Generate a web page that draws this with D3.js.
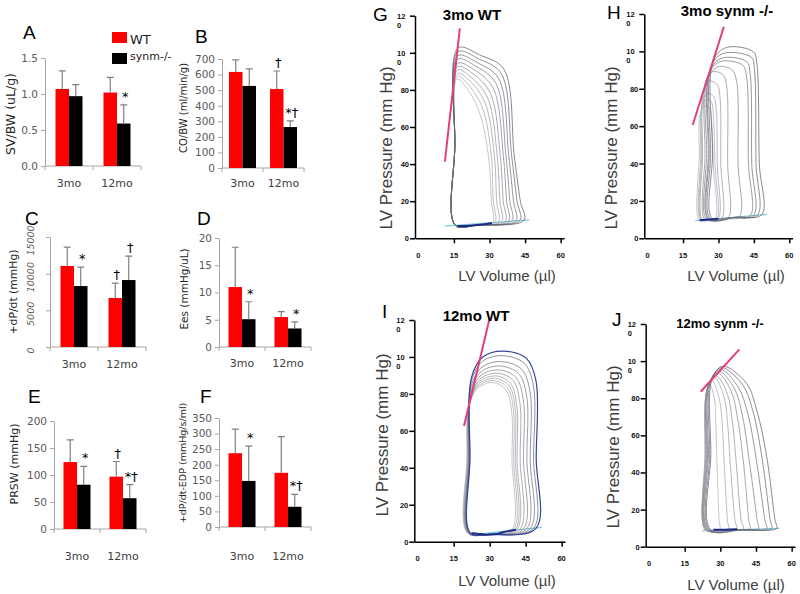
<!DOCTYPE html>
<html>
<head>
<meta charset="utf-8">
<script src="https://cdn.jsdelivr.net/npm/d3@7/dist/d3.min.js"></script>
<style>
  body { margin: 0; background: #fff; }
  svg { display: block; }
</style>
</head>
<body>
<svg id="fig" width="800" height="594"></svg>
<script>
// ---------- bar panels: mean and SD ----------
const groups = ["3mo", "12mo"];
const seriesNames = ["WT", "synm-/-"];
const seriesColors = ["#ff0000", "#000000"];

const svbwWT = [1.07, 1.02], svbwWTsd = [0.25, 0.21];
const svbwKO = [0.97, 0.59], svbwKOsd = [0.16, 0.26];
const svbwTicks = [0, 0.5, 1.0, 1.5];

const cobwWT = [617, 507], cobwWTsd = [77, 116];
const cobwKO = [527, 263], cobwKOsd = [109, 39];
const cobwTicks = [0, 100, 200, 300, 400, 500, 600, 700];

const dpdtWT = [11050, 6680], dpdtWTsd = [2580, 2040];
const dpdtKO = [8310, 9130], dpdtKOsd = [2590, 3270];
const dpdtTicks = [0, 5000, 10000, 15000];

const eesWT = [11.0, 5.5], eesWTsd = [7.3, 1.0];
const eesKO = [5.1, 3.4], eesKOsd = [3.2, 1.2];
const eesTicks = [0, 5, 10, 15, 20];

const prswWT = [124, 97], prswWTsd = [41, 28];
const prswKO = [82, 57], prswKOsd = [34, 25];
const prswTicks = [0, 50, 100, 150, 200];

const edpWT = [237, 174], edpWTsd = [77, 116];
const edpKO = [148, 65], edpKOsd = [112, 40];
const edpTicks = [0, 50, 100, 150, 200, 250, 300, 350];

// significance marks: panel, group index, series index, symbol
const sigMarks = [
  ["A", 1, 1, "*"],
  ["B", 1, 0, "†"], ["B", 1, 1, "*†"],
  ["C", 0, 1, "*"], ["C", 1, 0, "†"], ["C", 1, 1, "†"],
  ["D", 0, 1, "*"], ["D", 1, 1, "*"],
  ["E", 0, 1, "*"], ["E", 1, 0, "†"], ["E", 1, 1, "*†"],
  ["F", 0, 1, "*"], ["F", 1, 1, "*†"]
];

// ---------- PV loop panels: [volume (µl), pressure (mm Hg)] ----------
const pvTicksP = [0, 20, 40, 60, 80, 100, 120];
const pvTicksV = [0, 15, 30, 45, 60];

const gLoops = [
  [[15.6,7.0],[15.4,50],[16.8,102.7],[25.9,98.8],[36.0,91.3],[40.4,45],[43.0,20],[44.5,9.7],[25,7.2]],
  [[15.6,7.0],[15.4,50],[16.7,100.6],[25.3,96.8],[34.9,88.9],[39.3,45],[41.6,20],[42.8,9.6],[25,7.2]],
  [[15.6,7.0],[15.4,50],[16.7,98.4],[24.7,94.8],[33.8,86.2],[38.1,45],[40.1,20],[41.1,9.4],[25,7.2]],
  [[15.6,7.0],[15.4,50],[16.6,96.5],[24.1,92.9],[32.7,83.5],[36.9,45],[38.6,20],[39.4,9.3],[25,7.2]],
  [[15.6,7.0],[15.4,50],[16.6,94.3],[23.5,90.9],[31.6,80.8],[35.8,45],[37.2,20],[38.0,9.1],[25,7.2]],
  [[15.6,7.0],[15.4,50],[16.5,92.5],[22.9,88.9],[30.4,78.1],[34.5,45],[35.8,20],[36.6,9.0],[25,7.2]],
  [[15.6,7.0],[15.4,50],[16.5,90.7],[22.2,86.9],[29.3,75.4],[33.2,45],[34.4,20],[35.1,8.9],[25,7.2]],
  [[15.6,7.0],[15.4,50],[16.4,88.9],[21.6,85.0],[28.2,72.8],[32.0,45],[33.0,20],[33.7,8.7],[25,7.2]],
  [[15.6,7.0],[15.4,50],[16.4,87.5],[21.0,83.0],[27.1,70.1],[30.7,45],[31.6,20],[32.3,8.6],[25,7.2]],
  [[15.6,7.0],[15.4,50],[16.3,85.9],[20.4,81.0],[25.9,67.4],[29.5,45],[30.8,20],[31.3,8.5],[25,7.2]]
];
const gEspvr = [[11.2, 41.3], [17.5, 113.2]];
const gEdpvr = [[11.2, 6.6], [46.7, 9.9]];
const gBottom = [[16.5, 6.6], [20, 6.6], [24, 7.0], [28, 7.6], [31, 8.2]];

const hLoops = [
  [[27.5,10.2],[27.5,45],[27.8,95.1],[33.5,102.1],[44.8,99.8],[46.2,94.1],[47.3,40],[48.3,12.6],[37.9,11.4]],
  [[26.7,10.1],[26.7,45],[27.0,91.9],[32.0,98.9],[44.0,96.8],[45.2,90.9],[45.9,40],[46.5,12.4],[36.6,11.2]],
  [[26.1,10.1],[26.1,45],[26.4,89.3],[31.4,96.3],[42.0,94.5],[43.4,88.3],[44.1,40],[44.8,12.2],[35.5,11.1]],
  [[25.7,10.0],[25.7,45],[26.0,87.5],[30.6,94.5],[40.2,92.7],[41.9,86.5],[42.7,40],[43.4,12.0],[34.6,11.0]],
  [[25.0,10.0],[25.0,45],[25.3,84.8],[29.9,91.8],[35.8,90.0],[37.7,83.8],[38.3,40],[38.8,11.5],[31.9,10.7]],
  [[24.3,9.9],[24.3,45],[24.6,84.1],[27.5,89.1],[32.0,87.5],[33.5,81.1],[33.9,40],[34.2,11.0],[29.3,10.4]],
  [[23.3,9.8],[23.3,45],[23.6,79.1],[25.8,84.1],[29.4,82.5],[30.6,76.1],[31.0,40],[31.4,10.7],[27.4,10.2]],
  [[22.9,9.7],[22.9,45],[23.2,72.5],[25.2,77.5],[27.9,76.0],[29.0,69.5],[29.5,40],[29.9,10.5],[26.4,10.1]],
  [[22.5,9.7],[22.5,45],[22.8,69.3],[24.7,74.3],[27.0,73.0],[27.8,66.3],[28.5,40],[29.2,10.4],[25.9,10.0]],
  [[21.9,9.6],[21.9,45],[22.2,65.8],[24.3,70.8],[26.3,69.3],[27.1,62.8],[27.8,40],[28.5,10.3],[25.2,9.9]]
];
const hEspvr = [[19.1, 60.6], [32.3, 113.2]];
const hEdpvr = [[20.1, 9.4], [50.4, 12.8]];
const hBottom = [[22, 9.7], [26, 10.0], [30, 10.4]];

const iLoops = [
  [[21.9,4.8],[21.8,45],[22.5,89.2],[27.4,100.2],[35.7,103.2],[45.3,99.2],[49.3,87.2],[49.4,45],[49.3,7.2],[30,4.0]],
  [[21.8,4.8],[21.7,45],[22.4,86.7],[27.1,97.7],[35.2,100.7],[44.3,96.7],[48.2,84.7],[48.3,45],[48.2,7.1],[30,4.0]],
  [[21.6,4.8],[21.5,45],[22.2,83.5],[26.8,94.5],[34.7,97.5],[43.2,93.5],[46.8,81.5],[46.9,45],[46.8,7.0],[30,4.0]],
  [[21.5,4.8],[21.4,45],[22.1,81.1],[26.6,92.1],[34.2,95.1],[42.0,91.1],[45.4,79.1],[45.5,45],[45.4,6.9],[30,4.0]],
  [[21.4,4.8],[21.3,45],[22.0,79.0],[26.3,90.0],[33.7,93.0],[40.9,89.0],[44.0,77.0],[44.1,45],[44.0,6.8],[30,4.0]],
  [[21.3,4.8],[21.2,45],[21.9,77.2],[26.1,88.2],[33.3,91.2],[39.8,87.2],[42.6,75.2],[42.7,45],[42.6,6.7],[30,4.0]],
  [[21.1,4.8],[21.0,45],[21.7,75.7],[25.8,86.7],[32.8,89.7],[38.7,85.7],[41.3,73.7],[41.4,45],[41.3,6.6],[30,4.0]],
  [[21.0,4.8],[20.9,45],[21.6,74.4],[25.6,85.4],[32.4,88.4],[38.1,84.4],[40.6,72.4],[40.7,45],[40.6,6.5],[30,4.0]],
  [[20.8,4.8],[20.7,45],[21.4,73.2],[25.2,84.2],[31.9,87.2],[37.5,83.2],[39.9,71.2],[40.0,45],[39.9,6.5],[30,4.0]],
  [[20.6,4.8],[20.5,45],[21.2,72.1],[25.0,83.1],[31.5,86.1],[36.8,82.1],[39.2,70.1],[39.3,45],[39.2,6.4],[30,4.0]]
];
const iEspvr = [[19.3, 62.6], [29.9, 120.4]];
const iEdpvr = [[21.8, 3.6], [51.7, 7.8]];
const iBottom = [[22.5, 4.6], [25, 4.3], [29, 3.8], [33, 4.2], [37, 5.6], [41, 6.5]];

const jLoops = [
  [[26.0,9.0],[26.0,50],[26.5,90.3],[31.0,97.3],[41.0,88],[45.3,73.6],[49.5,48.5],[53.0,14.4],[53.7,9.9],[39.8,9.2]],
  [[25.5,9.0],[25.5,50],[26.0,89.5],[30.5,96.5],[39.5,87],[43.8,72.5],[47.5,48],[51.0,14],[51.6,9.8],[38.5,9.2]],
  [[25.0,9.0],[25.0,50],[25.5,88.5],[30.0,95.5],[37.5,86],[41.6,71.5],[45.0,48],[48.8,14],[49.5,9.7],[37.2,9.2]],
  [[24.6,9.0],[24.6,50],[25.1,87.5],[29.5,94.5],[36.0,85],[39.3,70.5],[42.0,48],[45.5,14],[46.0,9.6],[35.3,9.2]],
  [[24.3,9.0],[24.3,50],[24.8,86.5],[29.0,93.5],[34.5,84],[37.2,69.5],[39.5,48],[42.0,14],[42.5,9.5],[33.4,9.2]],
  [[24.0,9.0],[24.0,50],[24.5,85.0],[28.3,92.0],[33.0,82],[35.0,68],[36.5,48],[38.8,14],[39.7,9.4],[31.9,9.1]],
  [[23.8,9.0],[23.8,50],[24.3,84.0],[27.6,91.0],[31.5,81],[33.0,67],[34.0,48],[36.2,14],[36.9,9.3],[30.4,9.1]],
  [[23.6,9.0],[23.6,50],[24.1,82.5],[26.5,89.5],[29.5,80],[30.8,66],[31.5,48],[33.0,14],[33.4,9.2],[28.5,9.1]],
  [[23.5,9.0],[23.5,50],[24.0,81.0],[25.3,88.0],[27.5,80],[28.1,66],[28.5,48],[29.5,14],[29.8,9.2],[26.7,9.1]]
];
const jEspvr = [[21.7, 83.5], [38.0, 106.3]];
const jEdpvr = [[22.2, 8.6], [54.8, 9.9]];
const jBottom = [[27, 9.1], [32, 9.2], [37, 9.4]];

// ---------- drawing ----------
const svg = d3.select("#fig");
const axisGrey = "#a6a6a6";
const barFont = "'DejaVu Sans', Verdana, sans-serif";
const pvFont = "'Liberation Sans', Arial, sans-serif";
const barW = 13.5;

const barPanels = [
  {id:"A", wt:svbwWT, wtSd:svbwWTsd, ko:svbwKO, koSd:svbwKOsd, ticks:svbwTicks, fmt:d3.format(".1f"),
   label:"SV/BW (uL/g)", labSize:12.5, x0:45, x1:141, y0:166, y1:58, lx:23, ly:39, labX:11, labY:114, catY:187},
  {id:"B", wt:cobwWT, wtSd:cobwWTsd, ko:cobwKO, koSd:cobwKOsd, ticks:cobwTicks, fmt:d3.format("d"),
   label:"CO/BW (ml/min/g)", labSize:10, x0:222, x1:304, y0:168, y1:59, lx:195, ly:43, labX:183, labY:108, catY:187},
  {id:"C", wt:dpdtWT, wtSd:dpdtWTsd, ko:dpdtKO, koSd:dpdtKOsd, ticks:dpdtTicks, fmt:d3.format("d"), rotTicks:true,
   label:"+dP/dt  (mmHg)", labSize:10.8, x0:50, x1:146, y0:347, y1:237, lx:25, ly:225, labX:13, labY:292, catY:368},
  {id:"D", wt:eesWT, wtSd:eesWTsd, ko:eesKO, koSd:eesKOsd, ticks:eesTicks, fmt:d3.format("d"),
   label:"Ees  (mmHg/uL)", labSize:10.5, x0:219, x1:311, y0:347, y1:238, lx:197, ly:225, labX:184, labY:289, catY:367},
  {id:"E", wt:prswWT, wtSd:prswWTsd, ko:prswKO, koSd:prswKOsd, ticks:prswTicks, fmt:d3.format("d"),
   label:"PRSW (mmHg)", labSize:11, x0:54, x1:146, y0:529, y1:421, lx:28, ly:403, labX:14, labY:464, catY:560},
  {id:"F", wt:edpWT, wtSd:edpWTsd, ko:edpKO, koSd:edpKOsd, ticks:edpTicks, fmt:d3.format("d"),
   label:"+dP/dt-EDP  (mmHg/s/ml)", labSize:9.5, x0:219, x1:311, y0:527, y1:418, lx:200, ly:403, labX:183, labY:463, catY:560}
];

function drawBarPanel(p) {
  const maxTick = p.ticks[p.ticks.length - 1];
  const x = d3.scaleBand().domain(groups).range([p.x0, p.x1]);
  const y = d3.scaleLinear().domain([0, maxTick]).range([p.y0, p.y1]);
  const g = svg.append("g");

  const ya = g.append("g").attr("transform", `translate(${p.x0},0)`)
    .call(d3.axisLeft(y).tickValues(p.ticks).tickSize(4).tickSizeOuter(0).tickFormat(p.fmt));
  ya.select(".domain").attr("stroke", axisGrey);
  ya.selectAll(".tick line").attr("stroke", axisGrey);
  ya.selectAll(".tick text").attr("fill", "#595959").attr("x", -7)
    .style("font-family", barFont).style("font-size", "10.5px");
  if (p.rotTicks) {
    ya.selectAll(".tick text").attr("transform", "rotate(-90)")
      .attr("x", -3).attr("y", -16).attr("dy", 0).attr("text-anchor", "middle")
      .style("font-style", "italic").style("font-size", "9.5px");
  }

  // x axis with marks at category edges
  const edges = [x(groups[0]), x(groups[1]), p.x1];
  g.append("line").attr("x1", p.x0).attr("x2", p.x1).attr("y1", p.y0).attr("y2", p.y0)
    .attr("stroke", axisGrey);
  g.selectAll(".xt").data(edges).join("line")
    .attr("x1", d => d).attr("x2", d => d).attr("y1", p.y0).attr("y2", p.y0 + 4)
    .attr("stroke", axisGrey);
  g.selectAll(".cat").data(groups).join("text")
    .attr("x", d => x(d) + x.bandwidth() / 2).attr("y", p.catY)
    .attr("text-anchor", "middle").attr("fill", "#404040")
    .style("font-family", barFont).style("font-size", "11px")
    .text(d => d);

  const rows = [];
  groups.forEach((grp, i) => {
    [[p.wt, p.wtSd], [p.ko, p.koSd]].forEach(([m, sd], s) =>
      rows.push({grp, i, s, v: m[i], sd: sd[i]}));
  });
  const cx = d => x(d.grp) + x.bandwidth() / 2 + (d.s - 0.5) * barW;

  g.selectAll(".bar").data(rows).join("rect")
    .attr("x", d => cx(d) - barW / 2).attr("width", barW)
    .attr("y", d => y(d.v)).attr("height", d => y(0) - y(d.v))
    .attr("fill", d => seriesColors[d.s]);

  g.selectAll(".err").data(rows).join("path")
    .attr("d", d => `M${cx(d)},${y(d.v)}V${y(d.v + d.sd)}M${cx(d) - 3.5},${y(d.v + d.sd)}H${cx(d) + 3.5}`)
    .attr("stroke", "#808080").attr("stroke-width", 1.2).attr("fill", "none");

  sigMarks.filter(m => m[0] === p.id).forEach(([, i, s, txt]) => {
    const d = rows.find(r => r.i === i && r.s === s);
    g.append("text").attr("x", cx(d) + 1.5).attr("y", y(d.v + d.sd) - 4)
      .attr("text-anchor", "middle").attr("fill", "#000")
      .style("font-family", barFont).style("font-size", "13px")
      .text(txt);
  });

  // panel letter and axis title
  g.append("text").attr("x", p.lx).attr("y", p.ly).attr("fill", "#000")
    .style("font-family", pvFont).style("font-size", "19px").text(p.id);
  g.append("text")
    .attr("transform", `translate(${p.labX},${p.labY}) rotate(-90)`)
    .attr("text-anchor", "middle").attr("dy", "0.35em").attr("fill", "#262626")
    .style("font-family", barFont).style("font-size", p.labSize + "px")
    .text(p.label);
}

barPanels.forEach(drawBarPanel);

// legend (panel A)
const leg = svg.append("g");
seriesNames.forEach((name, s) => {
  leg.append("rect").attr("x", 112).attr("y", 32 + s * 21).attr("width", 15).attr("height", 11)
    .attr("fill", seriesColors[s]);
  leg.append("text").attr("x", 130).attr("y", s === 0 ? 44 : 60)
    .attr("fill", "#222").style("font-family", barFont)
    .style("font-size", s === 0 ? "13px" : "11px").text(name);
});

// ---------- PV panels ----------
const pvPanels = [
  {id:"G", title:"3mo WT", titleSize:15, loops:gLoops, espvr:gEspvr, edpvr:gEdpvr, bottom:gBottom,
   x0:415, x1:564, y0:238.3, y1:15.7, tx:472, ty:20, lx:373, ly:21, ylx:386, yly:148, xlx:507, xly:281},
  {id:"H", title:"3mo synm -/-", titleSize:15, loops:hLoops, espvr:hEspvr, edpvr:hEdpvr, bottom:hBottom,
   x0:644.3, x1:792.6, y0:238.3, y1:14, tx:727, ty:16, lx:607, ly:19, ylx:611, yly:148, xlx:736, xly:281},
  {id:"I", title:"12mo WT", titleSize:15, loops:iLoops, espvr:iEspvr, edpvr:iEdpvr, bottom:iBottom, navyTop:true,
   x0:414.3, x1:565, y0:541.7, y1:320, tx:476, ty:321, lx:382, ly:318, ylx:382, yly:435, xlx:507, xly:586},
  {id:"J", title:"12mo synm -/-", titleSize:13, loops:jLoops, espvr:jEspvr, edpvr:jEdpvr, bottom:jBottom,
   x0:645.7, x1:795, y0:546.7, y1:324, tx:720, ty:328, lx:612, ly:326, ylx:613, yly:447, xlx:736, xly:590}
];

function drawPV(p) {
  const x = d3.scaleLinear().domain([-1.4, 61.4]).range([p.x0, p.x1]);
  const y = d3.scaleLinear().domain([0, 120]).range([p.y0, p.y1]);
  const g = svg.append("g");
  const closed = d3.line().x(d => x(d[0])).y(d => y(d[1])).curve(d3.curveCatmullRomClosed.alpha(0.5));
  const open = d3.line().x(d => x(d[0])).y(d => y(d[1])).curve(d3.curveCatmullRom.alpha(0.5));
  const straight = d3.line().x(d => x(d[0])).y(d => y(d[1]));

  g.append("path").datum(p.edpvr).attr("d", straight)
    .attr("fill", "none").attr("stroke", "#7cc9d6").attr("stroke-width", 1.2);

  const n = p.loops.length;
  const col = d3.scaleLinear().domain([0, n - 1]).range(["#626270", "#b4b4ba"]);
  const order = d3.range(n).reverse();
  g.selectAll(".loop").data(order).join("path")
    .attr("d", i => closed(p.loops[i]))
    .attr("fill", "none")
    .attr("stroke", i => (p.navyTop && i === 0) ? "#34449a" : col(i))
    .attr("stroke-width", i => (p.navyTop && i === 0) ? 1.2 : 0.75);

  g.append("path").datum(p.bottom).attr("d", open)
    .attr("fill", "none").attr("stroke", "#1c2b86").attr("stroke-width", 2);

  g.append("path").datum(p.espvr).attr("d", straight)
    .attr("fill", "none").attr("stroke", "#e2407c").attr("stroke-width", 2);

  // axes
  const ya = g.append("g").attr("transform", `translate(${p.x0},0)`)
    .call(d3.axisLeft(y).tickValues(pvTicksP).tickSize(5).tickSizeOuter(0).tickFormat(""));
  const xa = g.append("g").attr("transform", `translate(0,${p.y0})`)
    .call(d3.axisBottom(x).tickValues(pvTicksV.slice(1)).tickSize(5).tickSizeOuter(0).tickFormat(""));
  [ya, xa].forEach(a => a.selectAll("path,line").attr("stroke", "#000").attr("stroke-width", 1.5));

  pvTicksP.forEach(v => {
    const s = String(v);
    const t = g.append("text").attr("fill", "#111")
      .style("font-family", pvFont).style("font-size", "7.5px").style("font-weight", "bold");
    if (s.length > 2) {
      t.append("tspan").attr("x", p.x0 - 18).attr("y", y(v) + 3).text(s.slice(0, 2));
      t.append("tspan").attr("x", p.x0 - 18).attr("y", y(v) + 12).text(s.slice(2));
    } else {
      t.attr("x", p.x0 - 6).attr("y", y(v) + 3).attr("text-anchor", "end").text(s);
    }
  });
  g.selectAll(".xl").data(pvTicksV).join("text")
    .attr("x", d => x(d)).attr("y", p.y0 + 19.5).attr("text-anchor", "middle").attr("fill", "#111")
    .style("font-family", pvFont).style("font-size", "7.5px").style("font-weight", "bold")
    .text(d => d);

  g.append("text").attr("x", p.tx).attr("y", p.ty).attr("text-anchor", "middle").attr("fill", "#000")
    .style("font-family", pvFont).style("font-size", p.titleSize + "px").style("font-weight", "bold")
    .text(p.title);
  g.append("text").attr("x", p.lx).attr("y", p.ly).attr("fill", "#000")
    .style("font-family", pvFont).style("font-size", "19px").text(p.id);
  g.append("text")
    .attr("transform", `translate(${p.ylx},${p.yly}) rotate(-90)`)
    .attr("text-anchor", "middle").attr("dy", "0.35em").attr("fill", "#404040")
    .style("font-family", pvFont).style("font-size", "17px")
    .text("LV Pressure (mm Hg)");
  g.append("text").attr("x", p.xlx).attr("y", p.xly).attr("text-anchor", "middle").attr("fill", "#404040")
    .style("font-family", pvFont).style("font-size", "15px")
    .text("LV Volume (µl)");
}

pvPanels.forEach(drawPV);
</script>
</body>
</html>
